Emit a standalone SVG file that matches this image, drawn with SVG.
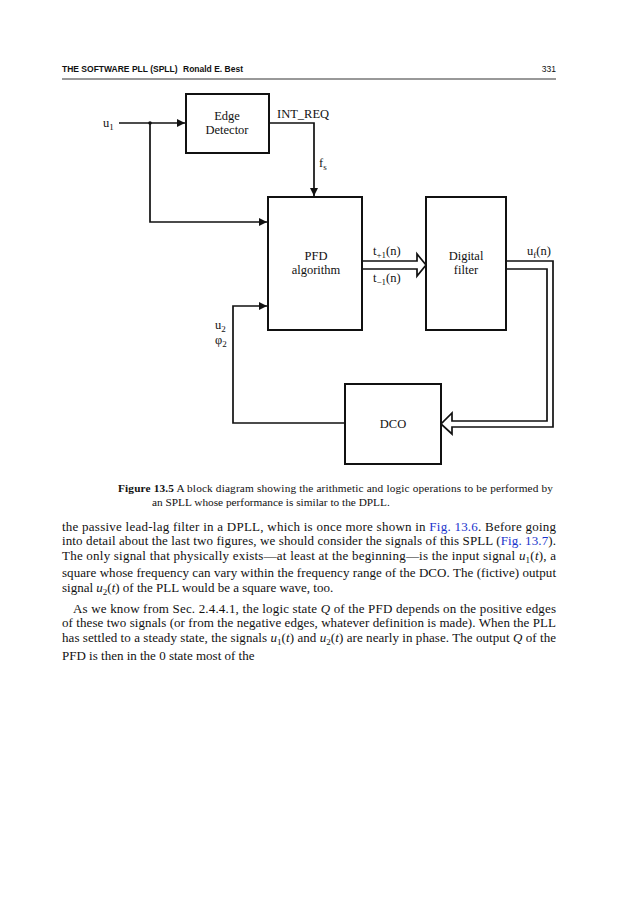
<svg xmlns="http://www.w3.org/2000/svg" width="636" height="900" viewBox="0 0 636 900">
<style>
.hdr{font-family:"Liberation Sans",Arial,sans-serif;font-weight:bold;font-size:8.5px;fill:#111}
.box{fill:#fff;stroke:#111;stroke-width:2}
.lbl{font-family:"Liberation Serif","Times New Roman",serif;font-size:12.5px;fill:#111}
.bl{font-family:"Liberation Serif","Times New Roman",serif;font-size:12.5px;fill:#111;text-anchor:middle}
.ln{fill:none;stroke:#111;stroke-width:1.7}
.dbl{fill:#fff;stroke:#111;stroke-width:1.7;stroke-linejoin:miter}
.cap{font-family:"Liberation Serif","Times New Roman",serif;font-size:11.3px;fill:#111}
.body{font-family:"Liberation Serif","Times New Roman",serif;font-size:13px;fill:#111}
.lnk{fill:#1a33cc}
.it{font-style:italic}
.sub{font-size:9px}
.dsub{font-size:9px}
</style>
<defs>
<marker id="ah" viewBox="0 0 10 10" refX="10" refY="5" markerWidth="9" markerHeight="8" markerUnits="userSpaceOnUse" orient="auto">
<path d="M0,0 L10,5 L0,10 z" fill="#111"/>
</marker>
</defs>

<g id="header">
<text class="hdr" x="62" y="72">THE SOFTWARE PLL (SPLL)</text>
<text class="hdr" x="183" y="72">Ronald E. Best</text>
<text class="hdr" x="556" y="72" text-anchor="end" style="font-weight:normal">331</text>
<line x1="62" y1="79" x2="556" y2="79" stroke="#333" stroke-width="1"/>
</g>

<g id="connectors">
<path class="ln" d="M119,123 H185" marker-end="url(#ah)"/>
<circle cx="150" cy="123" r="1.8" fill="#111"/>
<path class="ln" d="M150,123 V222 H267" marker-end="url(#ah)"/>
<path class="ln" d="M269,123 H314 V196" marker-end="url(#ah)"/>
<path class="ln" d="M345,423 H233 V306 H267" marker-end="url(#ah)"/>
<path class="dbl" d="M362,261 H417 V254 L426,265 L417,276 V269 H362"/>
<path class="dbl" d="M506,261 H553 V427 H452 V434 L441,424 L452,413 V421 H547 V269 H506"/>
</g>

<g id="edge-detector">
<rect class="box" x="186" y="94" width="83" height="59"/>
<text class="bl" x="227" y="120">Edge</text>
<text class="bl" x="227" y="134">Detector</text>
</g>

<g id="pfd">
<rect class="box" x="268" y="197" width="94" height="133"/>
<text class="bl" x="316" y="260">PFD</text>
<text class="bl" x="316" y="274">algorithm</text>
</g>

<g id="digital-filter">
<rect class="box" x="426" y="197" width="80" height="133"/>
<text class="bl" x="466" y="260">Digital</text>
<text class="bl" x="466" y="274">filter</text>
</g>

<g id="dco">
<rect class="box" x="345" y="384" width="96" height="80"/>
<text class="bl" x="393" y="428">DCO</text>
</g>

<g id="labels">
<text class="lbl" x="103" y="127">u<tspan class="dsub" dy="3">1</tspan></text>
<text class="lbl" x="277" y="118">INT_REQ</text>
<text class="lbl" x="319" y="167">f<tspan class="dsub" dy="3">s</tspan></text>
<text class="lbl" x="373" y="255">t<tspan class="dsub" dy="3">+1</tspan><tspan dy="-3">(n)</tspan></text>
<text class="lbl" x="373" y="282">t<tspan class="dsub" dy="3">−1</tspan><tspan dy="-3">(n)</tspan></text>
<text class="lbl" x="527" y="255">u<tspan class="dsub" dy="3">f</tspan><tspan dy="-3">(n)</tspan></text>
<text class="lbl" x="215" y="329">u<tspan class="dsub" dy="3">2</tspan></text>
<text class="lbl" x="215" y="344">φ<tspan class="dsub" dy="3">2</tspan></text>
</g>

<g id="caption">
<text class="cap" x="118" y="492" textLength="435" lengthAdjust="spacing"><tspan font-weight="bold">Figure 13.5</tspan> A block diagram showing the arithmetic and logic operations to be performed by</text>
<text class="cap" x="152" y="506">an SPLL whose performance is similar to the DPLL.</text>
</g>

<g id="body">
<text class="body" x="62" y="531" textLength="494" lengthAdjust="spacing">the passive lead-lag filter in a DPLL, which is once more shown in <tspan class="lnk">Fig. 13.6</tspan>. Before going</text>
<text class="body" x="62" y="545" textLength="494" lengthAdjust="spacing">into detail about the last two figures, we should consider the signals of this SPLL (<tspan class="lnk">Fig. 13.7</tspan>).</text>
<text class="body" x="62" y="560" textLength="494" lengthAdjust="spacing">The only signal that physically exists—at least at the beginning—is the input signal <tspan class="it">u</tspan><tspan class="sub" dy="3">1</tspan><tspan dy="-3">(</tspan><tspan class="it">t</tspan>), a</text>
<text class="body" x="62" y="577" textLength="494" lengthAdjust="spacing">square whose frequency can vary within the frequency range of the DCO. The (fictive) output</text>
<text class="body" x="62" y="592">signal <tspan class="it">u</tspan><tspan class="sub" dy="3">2</tspan><tspan dy="-3">(</tspan><tspan class="it">t</tspan>) of the PLL would be a square wave, too.</text>
<text class="body" x="73" y="613" textLength="483" lengthAdjust="spacing">As we know from Sec. 2.4.4.1, the logic state <tspan class="it">Q</tspan> of the PFD depends on the positive edges</text>
<text class="body" x="62" y="627" textLength="494" lengthAdjust="spacing">of these two signals (or from the negative edges, whatever definition is made). When the PLL</text>
<text class="body" x="62" y="642" textLength="494" lengthAdjust="spacing">has settled to a steady state, the signals <tspan class="it">u</tspan><tspan class="sub" dy="3">1</tspan><tspan dy="-3">(</tspan><tspan class="it">t</tspan>) and <tspan class="it">u</tspan><tspan class="sub" dy="3">2</tspan><tspan dy="-3">(</tspan><tspan class="it">t</tspan>) are nearly in phase. The output <tspan class="it">Q</tspan> of the</text>
<text class="body" x="62" y="660">PFD is then in the 0 state most of the</text>
</g>
</svg>
